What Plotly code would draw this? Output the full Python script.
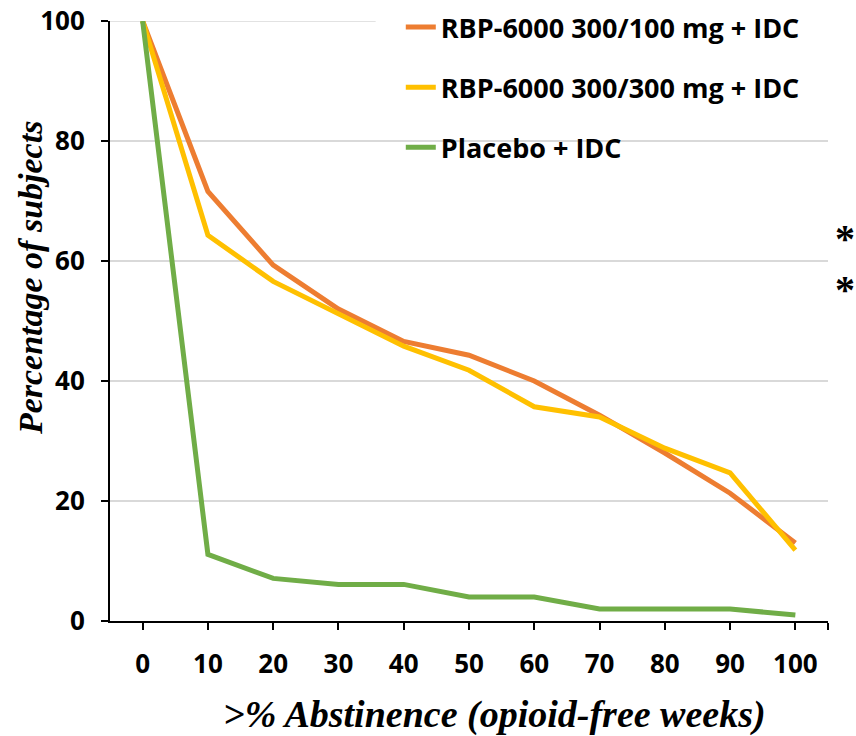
import plotly.graph_objects as go

abstinence = [0, 10, 20, 30, 40, 50, 60, 70, 80, 90, 100]
rbp_300_100 = [100, 71.6, 59.3, 52.0, 46.6, 44.3, 40.0, 34.3, 28.0, 21.3, 13.0]
rbp_300_300 = [100, 64.3, 56.6, 51.2, 45.8, 41.8, 35.7, 34.0, 28.8, 24.7, 11.8]
placebo = [100, 11.1, 7.1, 6.1, 6.1, 4.0, 4.0, 2.0, 2.0, 2.0, 1.0]
series_names = ["RBP-6000 300/100 mg + IDC", "RBP-6000 300/300 mg + IDC", "Placebo + IDC"]
colors = ["#ED7D31", "#FFC000", "#70AD47"]
y_ticks = [0, 20, 40, 60, 80, 100]

fig = go.Figure()
for i, (name, vals) in enumerate(zip(series_names, [rbp_300_100, rbp_300_300, placebo])):
    fig.add_trace(go.Scatter(
        x=abstinence, y=vals, mode="lines", name=name,
        line=dict(color=colors[i], width=5), legendgroup=f"g{i}",
    ))

tick_font = dict(family="Open Sans", size=26, color="black", weight="bold")
title_font = dict(family="Liberation Serif", color="black", weight="bold", style="italic")
fig.update_layout(
    width=856, height=736,
    margin=dict(l=110, r=28, t=21, b=115, autoexpand=False),
    plot_bgcolor="white", paper_bgcolor="white",
    showlegend=True,
    legend=dict(
        x=0.405, y=1.03, xanchor="left", yanchor="top",
        bgcolor="rgba(0,0,0,0)",
        font=dict(family="Open Sans", size=27, color="black", weight="bold"),
        tracegroupgap=22, itemwidth=30,
    ),
    xaxis=dict(
        range=[-5, 105], tickmode="array",
        tickvals=abstinence + [105],
        ticktext=[str(v) for v in abstinence] + [""],
        ticks="outside", ticklen=7, tickwidth=2, tickcolor="black",
        showline=True, linecolor="black", linewidth=2,
        showgrid=False, zeroline=False, ticklabeloverflow="allow",
        tickfont=tick_font, ticklabelstandoff=12, automargin=False,
    ),
    yaxis=dict(
        range=[0, 100], tickvals=y_ticks,
        ticks="outside", ticklen=7, tickwidth=2, tickcolor="black",
        showline=True, linecolor="black", linewidth=2,
        showgrid=True, gridcolor="#D9D9D9", gridwidth=1.5, zeroline=False,
        ticklabeloverflow="allow",
        tickfont=tick_font, ticklabelstandoff=11, automargin=False,
    ),
)
# top gridline (at the axis end) and white panel behind the legend, above the gridlines
fig.add_shape(type="line", xref="paper", yref="y", x0=0, x1=1, y0=y_ticks[-1], y1=y_ticks[-1],
              line=dict(color="#D9D9D9", width=1.5), layer="below")
fig.add_shape(type="rect", xref="paper", yref="paper", x0=0.37, x1=1.0, y0=0.73, y1=1.0,
              fillcolor="white", line=dict(width=0), layer="between")
fig.add_annotation(x=-0.111, y=0.572, xref="paper", yref="paper", text="Percentage of subjects",
                   textangle=-90, showarrow=False, xanchor="center", yanchor="middle",
                   font=dict(size=34, **title_font))
fig.add_annotation(x=0.536, y=-0.155, xref="paper", yref="paper", text=">% Abstinence (opioid-free weeks)",
                   showarrow=False, xanchor="center", yanchor="middle",
                   font=dict(size=38, **title_font))
for yv in [0.637, 0.552]:
    fig.add_annotation(x=1.0237, y=yv, xref="paper", yref="paper", text="*",
                       showarrow=False, xanchor="center",
                       font=dict(family="Liberation Serif", size=40, color="black", weight="bold"))

fig.write_html("out.html", config={"displayModeBar": False},
               post_script="document.body.style.margin='0';")
